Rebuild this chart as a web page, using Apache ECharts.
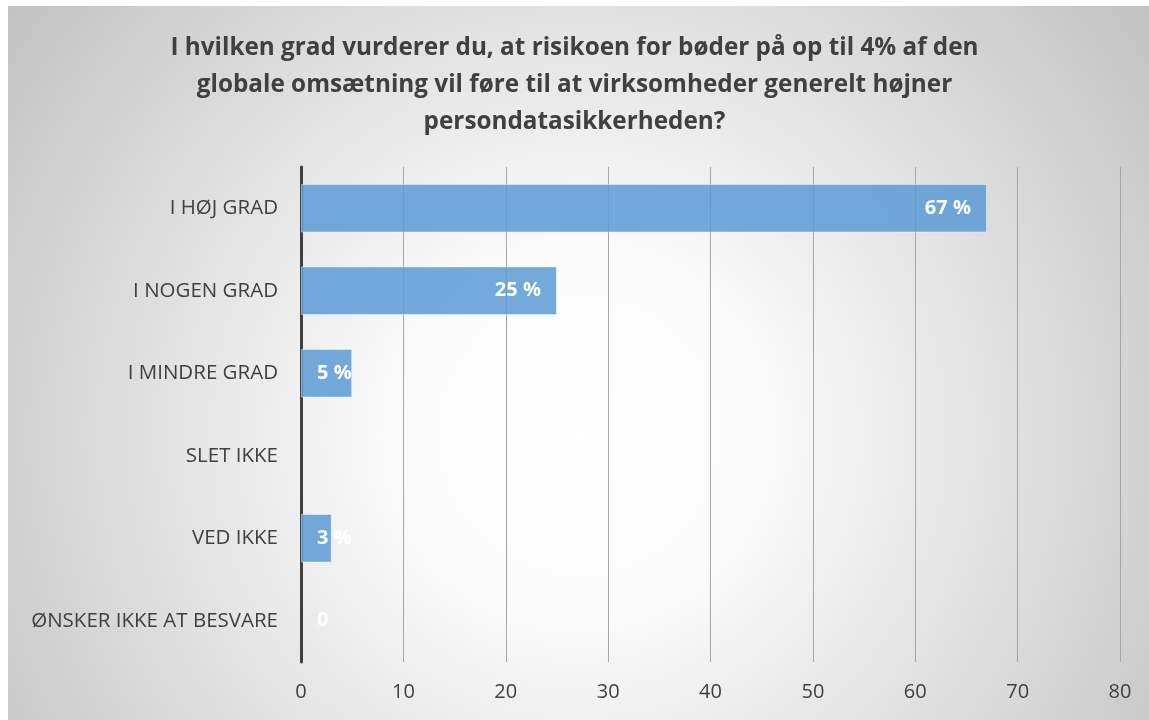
<!DOCTYPE html>
<html><head><meta charset="utf-8">
<script src="https://cdn.jsdelivr.net/npm/echarts@6/dist/echarts.min.js"></script>
<style>html,body{margin:0;padding:0;background:#fff}#c{width:1149px;height:720px}</style>
</head><body><div id="c"></div>
<script>
const titleLines = ['I hvilken grad vurderer du, at risikoen for bøder på op til 4% af den', 'globale omsætning vil føre til at virksomheder generelt højner', 'persondatasikkerheden?'];
const categories = ['I HØJ GRAD', 'I NOGEN GRAD', 'I MINDRE GRAD', 'SLET IKKE', 'VED IKKE', 'ØNSKER IKKE AT BESVARE'];
const values = [67, 25, 5, null, 3, 0];
const xTicks = {min: 0, max: 80, interval: 10};

const chart = echarts.init(document.getElementById('c'));
const FONT = '"Open Sans"';
chart.setOption({
  animation: false,
  graphic: [{
    type: 'rect', z: -100, silent: true,
    shape: {x: 8, y: 6, width: 1141, height: 714},
    style: {fill: new echarts.graphic.RadialGradient(0.5, 0.6, 1.0, [
      {offset: 0, color: '#ffffff'},
      {offset: 0.25, color: '#fbfbfb'},
      {offset: 1, color: '#c2c2c2'}
    ])}
  }],
  title: {
    text: titleLines.join('\n'),
    left: 'center', top: 25,
    textStyle: {fontFamily: FONT, fontWeight: 'bold', fontSize: 24.3, color: '#404040', lineHeight: 37, align: 'center'}
  },
  grid: {left: 301, right: 29, top: 167, bottom: 58, containLabel: false},
  xAxis: {
    type: 'value', min: xTicks.min, max: xTicks.max, interval: xTicks.interval,
    axisLine: {show: false}, axisTick: {show: false},
    axisLabel: {fontFamily: FONT, fontSize: 20, color: '#404040', margin: 20},
    splitLine: {show: true, lineStyle: {color: '#a6a6a6', width: 1}}
  },
  yAxis: {
    type: 'category', data: categories, inverse: true,
    axisLine: {show: true, lineStyle: {color: '#404040', width: 3}},
    axisTick: {show: false},
    axisLabel: {fontFamily: FONT, fontSize: 20.5, color: '#404040', margin: 23}
  },
  series: [{
    type: 'bar',
    data: values.map(v => ({
      value: v,
      itemStyle: v === 0 ? {borderWidth: 0} : {},
      label: (v !== null && v < 10) ? {position: 'insideLeft', distance: 16} : {}
    })),
    barCategoryGap: '41%',
    itemStyle: {color: 'rgba(91,155,213,0.85)', borderColor: 'rgba(255,255,255,0.45)', borderWidth: 1},
    label: {
      show: true, position: 'insideRight', distance: 16,
      fontFamily: FONT, fontWeight: 'bold', fontSize: 20, color: '#ffffff',
      formatter: p => p.value === 0 ? '0' : p.value + ' %'
    }
  }]
});
</script></body></html>
